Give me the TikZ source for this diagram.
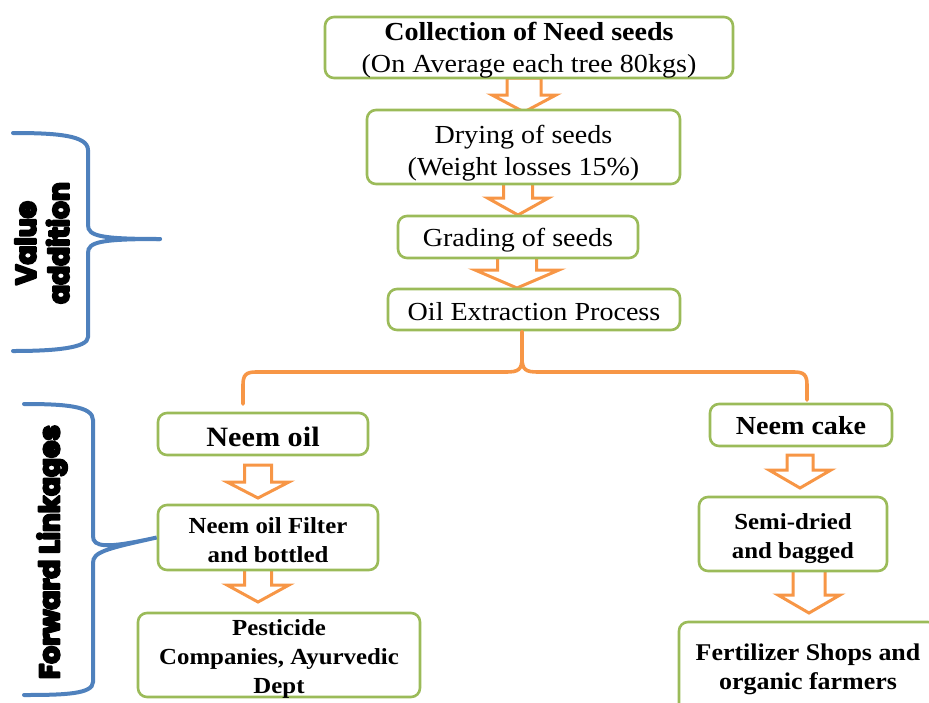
\documentclass[tikz,border=0pt]{standalone}
\usepackage{fontspec}
\setmainfont{Liberation Serif}[FakeStretch=1.08]
\newfontfamily\heavyfont{Poppins}
% outlined-and-filled glyphs give the labels an extra heavy stroke
\newcommand\heavyon{\special{pdf:literal direct 2.2 w 1 j 2 Tr}}
\newcommand\heavyoff{\special{pdf:literal direct 0 Tr}}
\definecolor{boxgreen}{HTML}{9BBB59}
\definecolor{floworange}{HTML}{F79646}
\definecolor{braceblue}{HTML}{4F81BD}
\begin{document}
\begin{tikzpicture}[x=1pt,y=-1pt,
  stepbox/.style={draw=boxgreen, line width=2.6pt, rounded corners=9pt, fill=white, inner sep=0pt},
  steptext/.style={align=center, inner sep=0pt, text=black},
  regtext/.style={steptext, font=\fontsize{26}{32}\selectfont},
  boldtext/.style={steptext, font=\fontsize{26}{32}\selectfont\bfseries},
  smalltext/.style={steptext, font=\fontsize{23}{29}\selectfont\bfseries},
  orangeline/.style={draw=floworange, line width=3pt},
  bracket/.style={draw=floworange, line width=3.6pt, line cap=round, line join=round},
  blueline/.style={draw=braceblue, line width=4pt, line cap=round},
  sidelabel/.style={font=\fontsize{28}{33}\selectfont\heavyfont\bfseries, align=center, rotate=90, inner sep=0pt},
  % hollow block arrow: shaft half width, head half width, length, shoulder depth
  pics/blockarrow/.style n args={4}{code={
    \draw[orangeline, fill=white, line join=miter]
      (-#1,0) -- (#1,0) -- (#1,#4) -- (#2,#4) -- (0,#3) -- (-#2,#4) -- (-#1,#4) -- cycle;
  }}
]
\useasboundingbox (0,0) rectangle (929,702);

% block arrows between the steps (drawn first, boxes sit on top)
\pic at (524,78) {blockarrow={17}{32}{34}{17}};
\pic at (518,182) {blockarrow={14.5}{30.5}{33}{16}};
\pic at (517,256) {blockarrow={19.5}{42}{32}{14}};
\pic at (258,465) {blockarrow={13.5}{31}{33}{17}};
\pic at (258,566) {blockarrow={13.5}{31}{36}{19}};
\pic at (800,455) {blockarrow={13}{31}{33}{15}};
\pic at (809,570) {blockarrow={16}{31}{43}{25}};

% process step boxes
\node[stepbox, minimum width=408, minimum height=61] (coll) at (529,47.5) {};
\node[stepbox, minimum width=313, minimum height=74] (dry) at (523.5,147) {};
\node[stepbox, minimum width=240, minimum height=42] (grade) at (518,237) {};
\node[stepbox, minimum width=292, minimum height=41] (oil) at (534,309.5) {};
\node[stepbox, minimum width=210, minimum height=42] (neemoil) at (263,434) {};
\node[stepbox, minimum width=220, minimum height=65] (filter) at (268,537.5) {};
\node[stepbox, minimum width=282, minimum height=84] (pest) at (279,655) {};
\node[stepbox, minimum width=182, minimum height=42] (cake) at (801,425) {};
\node[stepbox, minimum width=188, minimum height=74] (semi) at (793,534) {};
\node[stepbox, minimum width=258, minimum height=90] (fert) at (808,667) {};

% step texts
\node[regtext] (collT) at ([yshift=-3pt]coll.center)
  {{\bfseries Collection of Need seeds}\\(On Average each tree 80kgs)};
\node[regtext] (dryT) at ([yshift=-6pt]dry.center) {Drying of seeds\\(Weight losses 15\%)};
\node[regtext] (gradeT) at ([yshift=-3pt]grade.center) {Grading of seeds};
\node[regtext] (oilT) at ([yshift=-2pt]oil.center) {Oil Extraction Process};
\node[boldtext, font=\fontsize{28}{32}\selectfont\bfseries] (neemoilT) at ([yshift=-3pt]neemoil.center) {Neem oil};
\node[smalltext] (filterT) at ([yshift=-3pt]filter.center) {Neem oil Filter\\and bottled};
\node[smalltext] (pestT) at ([yshift=-4pt]pest.center) {Pesticide\\Companies, Ayurvedic\\Dept};
\node[boldtext] (cakeT) at ([yshift=-1pt]cake.center) {Neem cake};
\node[smalltext] (semiT) at ([yshift=-5pt]semi.center) {Semi-dried\\and bagged};
\node[smalltext, font=\fontsize{24}{29}\selectfont\bfseries] (fertT) at ([yshift=-2pt]fert.center)
  {Fertilizer Shops and\\organic farmers};

% orange brace splitting the oil extraction output
\coordinate (splitL) at (243,404);
\coordinate (splitR) at (807,400);
\draw[bracket]
  (oil.south -| 522,0) -- (522,358) .. controls (522,370) and (518,372) .. (506,372)
  -- (256,372) .. controls (246,372) and (243,375) .. (243,385) -- (splitL);
\draw[bracket]
  (522,358) .. controls (522,370) and (526,372) .. (538,372)
  -- (794,372) .. controls (804,372) and (807,375) .. (807,385) -- (splitR);

% blue braces with their labels
\coordinate (vaTip) at (160,239);
\draw[blueline]
  (13,133) .. controls (55,133) and (88,135) .. (88,150) -- (88,225)
  .. controls (88,236) and (100,239) .. (vaTip);
\draw[blueline]
  (vaTip) .. controls (100,239) and (88,242) .. (88,253) -- (88,337)
  .. controls (88,348) and (55,351) .. (13,351);
\draw[blueline]
  (24,404) .. controls (65,404) and (93,406) .. (93,420) -- (93,536)
  .. controls (93,547) and (105,549) .. (filter.west)
  .. controls (105,549) and (93,552) .. (93,563) -- (93,682)
  .. controls (93,694) and (65,695) .. (24,695);

\node[sidelabel] (valueadd) at (42,243) {\heavyon Value\\\heavyon addition\heavyoff};
\node[sidelabel] (fwdlink) at (52,552) {\heavyon Forward Linkages\heavyoff};
\end{tikzpicture}
\end{document}
